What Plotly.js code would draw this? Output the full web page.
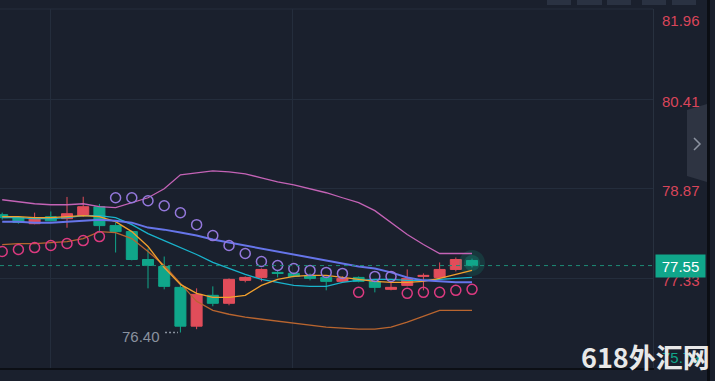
<!DOCTYPE html>
<html><head><meta charset="utf-8">
<script src="https://cdn.plot.ly/plotly-3.0.1.min.js"></script>
<style>html,body{margin:0;padding:0;background:#1a202d;}#chart{width:715px;height:381px;}</style>
</head><body><div id="chart"></div>
<script>
// ---- data ----
const bars = [0,1,2,3,4,5,6,7,8,9,10,11,12,13,14,15,16,17,18,19,20,21,22,23,24,25,26,27,28,29];
const open  = [78.425,78.374,78.27,78.39,78.357,78.408,78.56,78.237,78.134,77.655,77.535,77.176,76.509,77.039,76.902,77.296,77.347,77.433,77.416,77.381,77.347,77.279,77.347,77.279,77.142,77.21,77.364,77.347,77.484,77.638];
const high  = [78.46,78.39,78.46,78.48,78.73,78.733,78.61,78.29,78.15,77.843,77.706,77.244,77.159,77.193,77.33,77.364,77.501,77.467,77.433,77.416,77.364,77.364,77.364,77.296,77.262,77.484,77.416,77.604,77.689,77.67];
const low   = [78.34,78.27,78.26,78.31,78.20,78.39,78.117,77.775,77.64,77.159,77.142,76.40,76.457,76.851,76.868,77.262,77.279,77.347,77.347,77.296,77.125,77.262,77.262,77.09,77.125,77.193,77.125,77.33,77.45,77.518];
const close = [78.374,78.29,78.374,78.32,78.442,78.562,78.237,78.134,77.655,77.552,77.193,76.509,77.056,76.902,77.313,77.347,77.484,77.416,77.364,77.33,77.279,77.33,77.279,77.176,77.176,77.33,77.381,77.484,77.655,77.55];
const bbUpper = [78.682,78.648,78.613,78.596,78.596,78.613,78.562,78.545,78.631,78.716,78.870,79.110,79.144,79.178,79.161,79.127,79.058,78.990,78.939,78.870,78.802,78.716,78.631,78.494,78.288,78.083,77.912,77.758,77.758,77.758];
const bbMiddle = [78.305,78.305,78.288,78.288,78.305,78.322,78.340,78.322,78.288,78.203,78.168,78.117,78.066,77.997,77.946,77.895,77.843,77.792,77.741,77.689,77.638,77.587,77.535,77.501,77.433,77.347,77.296,77.279,77.262,77.262];
const bbLower = [77.912,77.929,77.929,77.946,77.963,78.014,78.134,78.117,78.014,77.792,77.552,77.244,76.936,76.782,76.714,76.663,76.628,76.594,76.560,76.526,76.492,76.474,76.457,76.457,76.492,76.577,76.680,76.782,76.782,76.782];
const maFast = [78.391,78.391,78.374,78.374,78.391,78.408,78.391,78.305,78.134,77.878,77.518,77.227,77.073,77.005,77.005,77.039,77.210,77.313,77.364,77.381,77.381,77.347,77.313,77.279,77.262,77.262,77.279,77.330,77.398,77.467];
const maSlow = [78.374,78.374,78.357,78.357,78.374,78.408,78.408,78.374,78.254,78.100,77.980,77.860,77.741,77.604,77.501,77.398,77.313,77.262,77.210,77.193,77.193,77.262,77.296,77.313,77.313,77.296,77.296,77.313,77.330,77.347];
const sar = [77.792,77.826,77.860,77.895,77.929,77.980,78.049,78.716,78.716,78.665,78.579,78.459,78.254,78.066,77.895,77.758,77.621,77.552,77.501,77.467,77.433,77.416,77.090,77.364,77.364,77.073,77.090,77.090,77.125,77.142];
const yTicks = [81.96, 80.41, 78.87, 77.33, 75.79];
const yTickLabels = ['81.96','80.41','78.87','77.33','75.79'];
const xGridTicks = [2.95, 17.89];
const watermark = '618外汇网';

// ---- styles ----
const BG = '#1a202d', GRID = '#242d3c';
const UP = '#e14d5a', DOWN = '#10a68a';
const PW = 653, TOP = 9, PH = 359;
const px = x => x / PW;
const py = y => 1 - (y - TOP) / PH;

const last = close.length - 1;
const lastClose = close[last];
let lowIdx = 0; low.forEach((v,i)=>{ if (v < low[lowIdx]) lowIdx = i; });
const minLow = low[lowIdx];

const sarAbove = sar.map((v,i)=> v > high[i] ? v : null);
const sarBelow = sar.map((v,i)=> v > high[i] ? null : v);

const traces = [
  {type:'scatter', mode:'markers', x:[bars[last]], y:[(open[last]+close[last])/2], marker:{size:26, color:'rgba(16,166,138,0.18)'}, hoverinfo:'skip'},
  {type:'scatter', mode:'markers', x:[bars[last]], y:[(open[last]+close[last])/2], marker:{size:16, color:'rgba(16,166,138,0.25)'}, hoverinfo:'skip'},
  {type:'candlestick', x:bars, open:open, high:high, low:low, close:close,
   increasing:{line:{color:UP, width:1}, fillcolor:UP},
   decreasing:{line:{color:DOWN, width:1}, fillcolor:DOWN}, whiskerwidth:0},
  {type:'scatter', mode:'lines', x:bars, y:bbUpper, line:{color:'#c463b6', width:1.3}},
  {type:'scatter', mode:'lines', x:bars, y:bbLower, line:{color:'#b9652f', width:1.3}},
  {type:'scatter', mode:'lines', x:bars, y:maSlow, line:{color:'#19b3cc', width:1.3}},
  {type:'scatter', mode:'lines', x:bars, y:maFast, line:{color:'#f2a02d', width:1.3}},
  {type:'scatter', mode:'lines', x:bars, y:bbMiddle, line:{color:'#6675ea', width:2}},
  {type:'scatter', mode:'markers', x:bars, y:sarAbove, marker:{symbol:'circle-open', size:10, color:'#9478dc', line:{width:1.5}}},
  {type:'scatter', mode:'markers', x:bars, y:sarBelow, marker:{symbol:'circle-open', size:10, color:'#dd3a80', line:{width:1.5}}}
];

const annotations = [];
yTicks.forEach((v,i)=>{
  const isTop = v === Math.max(...yTicks), isBot = v === Math.min(...yTicks);
  annotations.push({xref:'paper', yref:'y', x:1, y:v, xanchor:'left', xshift:7,
    yshift: isTop ? -11 : (isBot ? 11 : -2), showarrow:false, text:yTickLabels[i],
    font:{family:'Liberation Sans, Arial, sans-serif', size:15, color: isBot ? '#10a68a' : '#d9455a'}});
});
annotations.push({xref:'paper', yref:'y', x:1, y:lastClose, xanchor:'left', xshift:2, showarrow:false,
  text:lastClose.toFixed(2), bgcolor:DOWN, width:45, height:18, borderpad:2,
  font:{family:'Liberation Sans, Arial, sans-serif', size:15, color:'#ffffff'}});
annotations.push({xref:'x', yref:'y', x:bars[lowIdx], y:minLow, xanchor:'right', xshift:-18, yshift:-4, showarrow:false,
  text:minLow.toFixed(2), font:{family:'Liberation Sans, Arial, sans-serif', size:15, color:'#8a929f'}});
annotations.push({xref:'paper', yref:'paper', x:px(645), y:py(356), xanchor:'center', yanchor:'middle', showarrow:false,
  text:watermark, font:{family:'Noto Sans CJK SC, sans-serif', size:27, color:'#e8e8e8', weight:'bold'}});

const shapes = [
  {type:'line', xref:'paper', yref:'paper', x0:0, x1:1, y0:1, y1:1, line:{color:GRID, width:1}},
  {type:'line', xref:'paper', yref:'y', x0:0, x1:1, y0:lastClose, y1:lastClose, line:{color:'#1d8c77', width:1, dash:'4px,4px'}},
  {type:'line', xref:'x', yref:'y', x0:bars[lowIdx]-0.95, x1:bars[lowIdx]-0.15, y0:minLow, y1:minLow, line:{color:'#8a929f', width:1.5, dash:'2px,2px'}},
  {type:'path', xref:'paper', yref:'paper', path:`M${px(687)},${py(110)} L${px(707)},${py(104)} L${px(707)},${py(182)} L${px(687)},${py(176)} Z`, fillcolor:'#2e3442', line:{width:0}},
  {type:'path', xref:'paper', yref:'paper', path:`M${px(694)},${py(138)} L${px(700)},${py(144)} L${px(694)},${py(150)}`, line:{color:'#8c93a0', width:1.5}},
  {type:'rect', xref:'paper', yref:'paper', x0:px(707), x1:px(710), y0:py(0), y1:py(381), fillcolor:'#0b0e14', line:{width:0}}
];
[[547,571],[577,602],[607,631],[642,666],[672,696]].forEach(b=>{
  shapes.push({type:'rect', xref:'paper', yref:'paper', x0:px(b[0]), x1:px(b[1]), y0:py(5), y1:py(-6), fillcolor:'#2a3242', line:{width:0}});
});

const layout = {
  width:715, height:381, margin:{l:0, r:62, t:9, b:13},
  paper_bgcolor:BG, plot_bgcolor:BG, showlegend:false,
  boxgap:0.32, boxgroupgap:0,
  xaxis:{range:[-0.136, 40.17], tickvals:xGridTicks, showticklabels:false, ticks:'', gridcolor:GRID, zeroline:false,
         showline:true, linecolor:'#0c0f15', linewidth:2, rangeslider:{visible:false}, fixedrange:true},
  yaxis:{side:'right', range:[75.79, 81.96], tickvals:yTicks, showticklabels:false, ticks:'', gridcolor:GRID, zeroline:false,
         showline:true, linecolor:'#28313f', linewidth:1, fixedrange:true},
  annotations:annotations, shapes:shapes
};
Plotly.newPlot('chart', traces, layout, {displayModeBar:false, staticPlot:true});
</script></body></html>
